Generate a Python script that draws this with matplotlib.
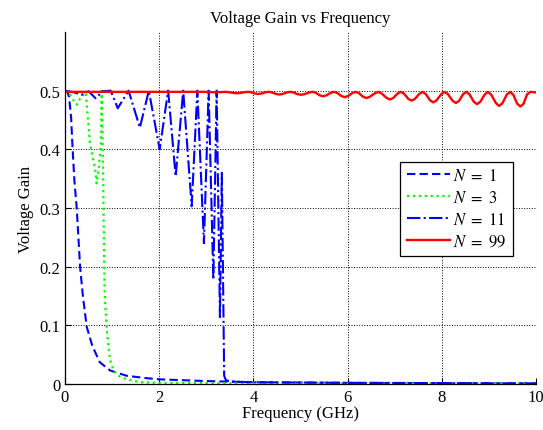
import matplotlib
matplotlib.use("Agg")
import matplotlib.pyplot as plt

plt.rcParams["font.family"] = ["Liberation Serif", "DejaVu Serif"]
plt.rcParams["mathtext.fontset"] = "stix"

# ── data ────────────────────────────────────────────────────────────────────
f_n1 = [0, 0.05, 0.085, 0.13, 0.16, 0.20, 0.25, 0.32, 0.38, 0.46, 0.58, 0.74,
        0.96, 1.31, 1.73, 2.0, 3.0, 4.0, 6.0, 8.0, 10.0]
v_n1 = [0.5, 0.498, 0.49, 0.454, 0.403, 0.346, 0.299, 0.20, 0.15, 0.098, 0.065,
        0.037, 0.023, 0.014, 0.010, 0.008, 0.005, 0.003, 0.002, 0.0015, 0.001]

f_n3 = [0, 0.12, 0.19, 0.25, 0.33, 0.44, 0.53, 0.64, 0.67, 0.72, 0.76, 0.78,
        0.81, 0.84, 0.88, 0.92, 0.955, 1.03, 1.13, 1.31, 1.6, 2.0, 4.0, 10.0]
v_n3 = [0.5, 0.492, 0.482, 0.476, 0.488, 0.497, 0.41, 0.366, 0.342, 0.37, 0.41, 0.5,
        0.35, 0.16, 0.098, 0.065, 0.042, 0.023, 0.014, 0.008, 0.003, 0.002, 0.001, 0.0008]

f_n11 = [0, 0.2, 0.35, 0.5, 0.65, 0.8, 0.97, 1.12, 1.35, 1.59, 1.78, 2.01,
         2.19, 2.35, 2.51, 2.69, 2.81, 2.95, 3.05, 3.15, 3.22, 3.29, 3.33,
         3.38, 3.42, 3.6, 4.0, 6.0, 8.0, 10.0]
v_n11 = [0.5, 0.497, 0.493, 0.499, 0.487, 0.499, 0.5, 0.470, 0.5, 0.437, 0.5, 0.400,
         0.5, 0.354, 0.5, 0.303, 0.5, 0.240, 0.5, 0.178, 0.5, 0.114, 0.36,
         0.014, 0.006, 0.004, 0.003, 0.002, 0.0015, 0.001]

f_n99 = [0, 3.0, 3.2, 3.42,
         3.58, 3.65, 3.72, 3.81, 3.88, 3.95,
         4.03, 4.10, 4.17, 4.25, 4.32, 4.39,
         4.48, 4.55, 4.62, 4.71, 4.78, 4.85,
         4.94, 5.01, 5.08, 5.18, 5.25, 5.32,
         5.41, 5.48, 5.55, 5.64, 5.71, 5.78,
         5.87, 5.94, 6.01, 6.10, 6.17, 6.24,
         6.33, 6.40, 6.47, 6.58, 6.65, 6.72,
         6.83, 6.90, 6.97, 7.06, 7.13, 7.20,
         7.29, 7.36, 7.43, 7.52, 7.59, 7.66,
         7.75, 7.82, 7.89, 7.99, 8.06, 8.13,
         8.23, 8.30, 8.37, 8.45, 8.52, 8.59,
         8.68, 8.75, 8.82, 8.91, 8.98, 9.05,
         9.15, 9.22, 9.29, 9.38, 9.45, 9.52,
         9.60, 9.67, 9.74, 9.81, 9.88, 10.0]
v_n99 = [0.498, 0.498, 0.4972, 0.498,
         0.4962, 0.4955, 0.4962, 0.4975, 0.498, 0.4975,
         0.4952, 0.4945, 0.4952, 0.4972, 0.498, 0.4972,
         0.4944, 0.4935, 0.4944, 0.4970, 0.498, 0.4970,
         0.4940, 0.4930, 0.4940, 0.4968, 0.498, 0.4967,
         0.4920, 0.4905, 0.4920, 0.4962, 0.498, 0.4962,
         0.4908, 0.4890, 0.4908, 0.4960, 0.498, 0.4958,
         0.4896, 0.4875, 0.4896, 0.4955, 0.498, 0.4954,
         0.4876, 0.4850, 0.4876, 0.4950, 0.498, 0.4949,
         0.4860, 0.4830, 0.4860, 0.4944, 0.498, 0.4943,
         0.4836, 0.4800, 0.4836, 0.4942, 0.498, 0.4942,
         0.4828, 0.4790, 0.4828, 0.4938, 0.498, 0.4937,
         0.4812, 0.4770, 0.4812, 0.4932, 0.498, 0.4932,
         0.4788, 0.4740, 0.4788, 0.4932, 0.498, 0.4930,
         0.4780, 0.4730, 0.4780, 0.4935, 0.498, 0.497]

x_ticks = [0, 2, 4, 6, 8, 10]
y_ticks = [0, 0.1, 0.2, 0.3, 0.4, 0.5]
y_tick_labels = ["0", "0.1", "0.2", "0.3", "0.4", "0.5"]

# ── figure ──────────────────────────────────────────────────────────────────
fig = plt.figure(figsize=(5.43, 4.31), dpi=100)
ax = fig.add_axes([0.1197, 0.1067, 0.8673, 0.8167])

ax.plot(f_n1, v_n1, color="#0000FF", lw=1.5, dashes=(4, 2), label=r"$N\ =\ 1$")
ax.plot(f_n3, v_n3, color="#00FF00", lw=1.6, linestyle=":", label=r"$N\ =\ 3$")
ax.plot(f_n11, v_n11, color="#0000FF", lw=1.5, linestyle="-.", label=r"$N\ =\ 11$")
ax.plot(f_n99, v_n99, color="#FF0000", lw=1.7, solid_joinstyle="round",
        label=r"$N\ =\ 99$")

ax.set_xlim(0, 10)
ax.set_ylim(0, 0.6)
ax.set_xticks(x_ticks)
ax.set_xticklabels([str(t) for t in x_ticks])
ax.set_yticks(y_ticks)
ax.set_yticklabels(y_tick_labels)
ax.tick_params(direction="in", length=4, width=0.8, labelsize=12, colors="black",
               top=False, right=False)
ax.grid(True, color="black", linestyle=":", linewidth=0.7)
ax.spines[["top", "right"]].set_visible(False)
ax.spines[["left", "bottom"]].set_linewidth(0.9)

ax.set_title("Voltage Gain vs Frequency", fontsize=12, pad=7)
ax.set_xlabel("Frequency (GHz)", fontsize=12, labelpad=0)
ax.set_ylabel("Voltage Gain", fontsize=12, labelpad=4)

leg = ax.legend(loc="upper left", bbox_to_anchor=(0.711, 0.632), fontsize=12,
                frameon=True, fancybox=False, framealpha=1, edgecolor="black",
                handlelength=2.6, handletextpad=0.2, borderpad=0.4,
                labelspacing=0.35, borderaxespad=0)
leg.get_frame().set_linewidth(0.9)

plt.savefig("out.png", dpi=100)
plt.close()
